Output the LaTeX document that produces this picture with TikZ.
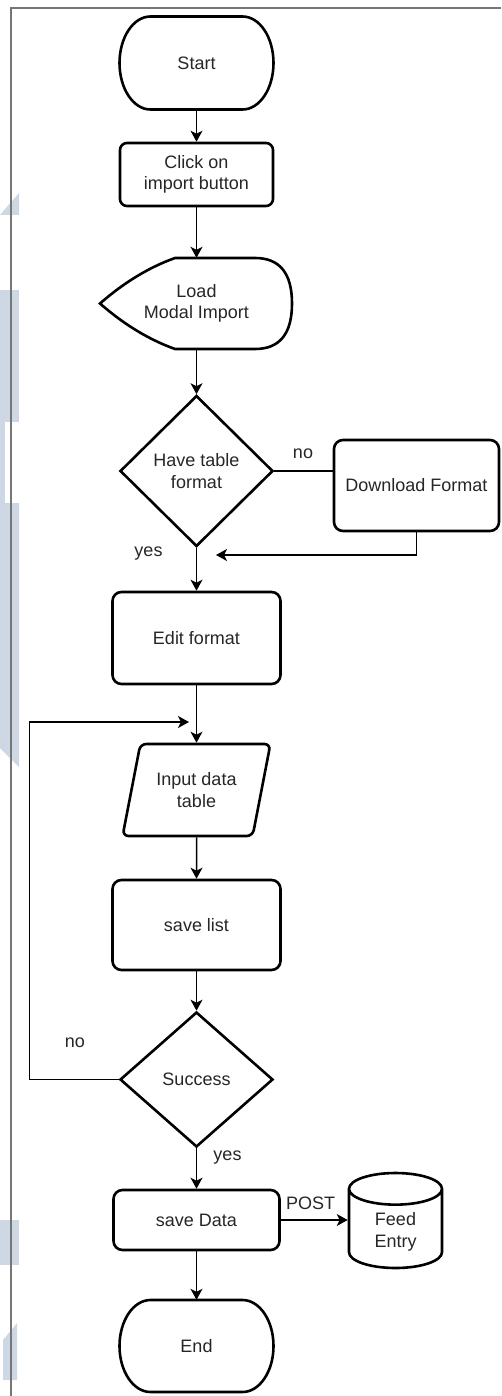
\documentclass[tikz,border=0pt]{standalone}
\usepackage{fontspec}
\setmainfont{Liberation Sans}
\usetikzlibrary{shapes.geometric,arrows.meta}
\definecolor{wmblue}{RGB}{205,216,228}
\definecolor{framegray}{RGB}{118,118,118}
\tikzset{
  outline/.style={draw=black, line width=2.6pt},
  proc/.style={outline, rounded corners=9pt, minimum width=168pt, minimum height=91pt, align=center, inner sep=2pt},
  decision/.style={outline, diamond, minimum width=153pt, align=center, inner sep=0pt},
  io/.style={outline, trapezium, trapezium left angle=70, trapezium right angle=110, trapezium stretches=true, rounded corners=6pt, minimum width=148pt, minimum height=92pt, align=center, inner sep=0pt},
  flow/.style={line width=1.5pt, -{Stealth[length=11pt,width=12pt,inset=3pt]}},
  link/.style={line width=1.5pt},
  lbl/.style={inner sep=1pt},
}
\begin{document}
\begin{tikzpicture}[x=1pt, y=1pt, font=\fontsize{18}{21.6}\selectfont, every node/.append style={text=black!85}]
    \useasboundingbox (0,0) rectangle (501,-1396);

    % faint background marks
    \fill[wmblue] (0,-215) -- (19,-193) -- (19,-215) -- cycle;
    \fill[wmblue] (0,-290) rectangle (19,-422);
    \fill[wmblue] (0,-422) rectangle (5,-503);
    \fill[wmblue] (0,-503) -- (19,-503) -- (19,-767) -- (0,-748) -- cycle;
    \fill[wmblue] (0,-1220) rectangle (19,-1265);
    \fill[wmblue] (3,-1340) -- (17,-1323) -- (17,-1380) -- (3,-1380) -- cycle;
    \draw[framegray, line width=1.5pt] (11,-1396) -- (11,-8) -- (501,-8);

    % shapes
    \node[minimum width=154pt, minimum height=93pt] (start) at (196.5,-63) {Start};
    \draw[outline] (150.5,-16.5) -- (242.5,-16.5)
        arc[start angle=90, end angle=-90, x radius=31, y radius=46.5] -- (150.5,-109.5)
        arc[start angle=270, end angle=90, x radius=31, y radius=46.5] -- cycle;

    \node[proc, minimum width=153pt, minimum height=63pt, rounded corners=7pt] (click) at (196.5,-174.5) {Click on\\import button};

    \node[minimum width=192pt, minimum height=91pt, align=center] (load) at (196.5,-303.5) {Load\\Modal Import};
    \draw[outline] (100,-303.5) .. controls (124,-282.5) and (149,-267.3) .. (175,-258) -- (255,-258)
        .. controls (279.7,-258) and (292,-273.2) .. (292,-303.5)
        .. controls (292,-333.8) and (279.7,-349) .. (255,-349)
        -- (175,-349) .. controls (149,-339.7) and (124,-324.5) .. (100,-303.5) -- cycle;

    \node[decision, minimum height=151pt] (fmt) at (196.5,-471) {Have table\\format};
    \node[proc, minimum width=165pt, minimum height=91pt] (dl) at (416.5,-485.5) {Download Format};
    \coordinate (merge) at (216,-555);

    \node[proc, minimum height=92pt] (edit) at (196.5,-638) {Edit format};
    \coordinate (loopin) at (189,-722);
    \node[io] (input) at (196.5,-790) {Input data\\table};
    \node[proc, minimum height=90pt] (list) at (196.5,-925) {save list};
    \node[decision, minimum height=135pt] (succ) at (196.5,-1079.5) {Success};

    \node[proc, minimum width=166pt, minimum height=60pt] (sdata) at (196.5,-1220) {save Data};
    \node[outline, cylinder, shape border rotate=90, aspect=0.65, minimum width=93pt, minimum height=95pt, align=center] (feed) at (395.5,-1232) {Feed\\Entry};

    \node[minimum width=153pt, minimum height=92pt] (end) at (196.5,-1346) {End};
    \draw[outline] (150.5,-1300) -- (242.5,-1300)
        arc[start angle=90, end angle=-90, x radius=31, y radius=46] -- (150.5,-1392)
        arc[start angle=270, end angle=90, x radius=31, y radius=46] -- cycle;

    % labels
    \node[lbl] (no1) at (303,-454) {no};
    \node[lbl] (yes1) at (148.5,-554) {yes};
    \node[lbl] (no2) at (75,-1043) {no};
    \node[lbl] (yes2) at (227.5,-1158) {yes};
    \node[lbl] (post) at (310.5,-1203) {POST};

    % connectors
    \draw[flow] (start) -- (click);
    \draw[flow] (click) -- (load);
    \draw[flow] (load) -- (fmt);
    \draw[link] (fmt.east) -- (fmt.east -| dl.west);
    \draw[flow] (dl.south) |- (merge);
    \draw[flow] (fmt) -- (edit);
    \draw[flow] (edit) -- (input);
    \draw[flow] (input) -- (list);
    \draw[flow] (list) -- (succ);
    \draw[flow] (succ.west) -- ++(-89,0) |- (loopin);
    \draw[flow] (succ) -- (sdata);
    \draw[flow] (sdata.east) -- (sdata.east -| feed.west);
    \draw[flow] (sdata) -- (end);
\end{tikzpicture}
\end{document}
